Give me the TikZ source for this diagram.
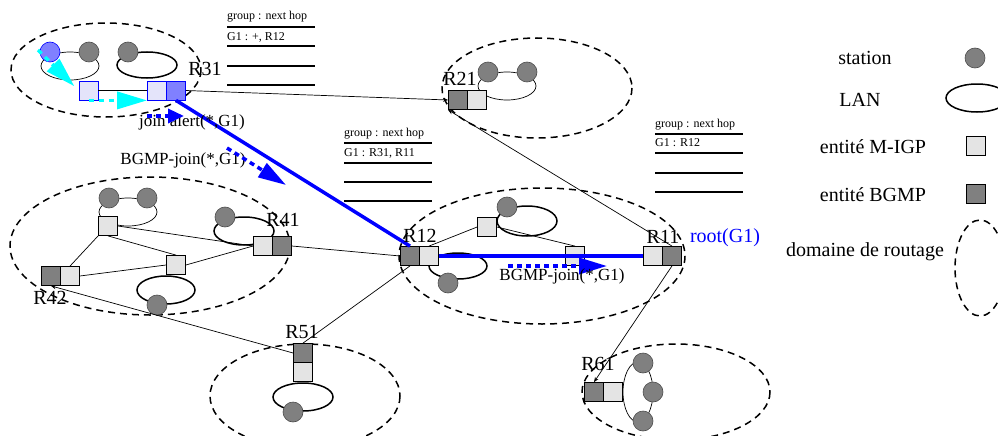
\documentclass[tikz,border=0pt]{standalone}
\usepackage{fontspec}
\setmainfont{Liberation Serif}
\usetikzlibrary{arrows.meta}
\definecolor{bleu}{RGB}{0,0,255}
\definecolor{cyanvif}{RGB}{0,255,255}
\definecolor{lavande}{RGB}{228,228,250}
\definecolor{mauve}{RGB}{128,128,255}
\definecolor{gris}{RGB}{128,128,128}
\definecolor{grisclair}{RGB}{228,228,228}
\begin{document}
\begin{tikzpicture}[x=1pt,y=-1pt,
  station/.style={circle,draw=black!70,fill=gris,minimum size=20pt,inner sep=0pt,line width=0.6pt},
  migp/.style={rectangle,draw,fill=grisclair,minimum size=19pt,inner sep=0pt,line width=0.8pt},
  bgmp/.style={migp,fill=gris},
  domaine/.style={dash pattern=on 7pt off 5pt,line width=1.5pt},
  lan/.style={line width=1.5pt},
  lanfin/.style={line width=0.7pt},
  lien/.style={line width=0.7pt},
  petit/.style={lien,-{Stealth[length=5pt,width=4pt]}},
  chemin/.style={bleu,line width=3.5pt},
  cyanfl/.style={cyanvif,line width=3.5pt,dash pattern=on 5pt off 5pt,-{Triangle[length=30pt,width=17pt]}},
  bleufl/.style={bleu,line width=3.5pt,dash pattern=on 5pt off 4pt,-{Triangle[length=28pt,width=16pt]}},
  lbl/.style={font=\fontsize{20}{22}\selectfont,inner sep=0pt},
  msg/.style={font=\fontsize{17}{19}\selectfont,inner sep=0pt},
  tab/.style={font=\fontsize{12}{13}\selectfont,inner sep=0pt,anchor=west},
  tabtrait/.style={line width=2pt}]
\useasboundingbox (0,0) rectangle (998,436);

% domaines de routage
\draw[domaine] (106,70) ellipse (95 and 47); % R31
\draw[domaine] (537,88) ellipse (95 and 50); % R21
\draw[domaine] (150,246) ellipse (140 and 69); % R41, R42
\draw[domaine] (542,256) ellipse (143 and 68); % R12, R11
\draw[domaine] (305,396) ellipse (95 and 52); % R51
\draw[domaine] (676,392) ellipse (94 and 48); % R61

% LAN
\draw[lanfin] (70,66) ellipse (29 and 14);
\draw[lan] (147,65) ellipse (30 and 13);
\draw[lanfin] (507,86) ellipse (29 and 14);
\draw[lan] (527,221) ellipse (30 and 15);
\draw[lan] (458,266) ellipse (29 and 13);
\draw[lan] (244,231) ellipse (30 and 14);
\draw[lanfin] (128,212) ellipse (29 and 14);
\draw[lan] (166,290) ellipse (29 and 14);
\draw[lan] (303,397) ellipse (30 and 14);
\draw[lanfin] (638,392) ellipse (15 and 30);

% stations
\node[station,fill=mauve,draw=bleu] (s1) at (50,52) {};
\node[station] (s2) at (89,52) {};
\node[station] (s3) at (128,52) {};
\node[station] (s4) at (488,72) {};
\node[station] (s5) at (527,72) {};
\node[station] (s6) at (507,207) {};
\node[station] (s7) at (448,283) {};
\node[station] (s8) at (225,217) {};
\node[station] (s9) at (109,198) {};
\node[station] (s10) at (147,198) {};
\node[station] (s11) at (157,305) {};
\node[station] (s12) at (293,412) {};
\node[station] (s13) at (643,363) {};
\node[station] (s14) at (653,392) {};
\node[station] (s15) at (643,421) {};

% entites M-IGP et BGMP
\node[migp,fill=lavande,draw=bleu] (m1) at (88.5,90.5) {};
\node[migp,fill=lavande,draw=bleu] (r31a) at (157,90.5) {};
\node[migp,fill=mauve,draw=bleu] (r31b) at (176,90.5) {};
\node[bgmp] (r21a) at (458,100) {};
\node[migp] (r21b) at (477,100) {};
\node[bgmp] (r12a) at (410,256) {};
\node[migp] (r12b) at (429,256) {};
\node[migp] (m2) at (487,227) {};
\node[migp] (m3) at (575,256) {};
\node[migp] (r11a) at (653,256) {};
\node[bgmp] (r11b) at (672,256) {};
\node[migp] (r41a) at (263,246) {};
\node[bgmp] (r41b) at (282,246) {};
\node[migp] (m4) at (108,226) {};
\node[migp] (m5) at (176,265) {};
\node[bgmp] (r42a) at (51,276) {};
\node[migp] (r42b) at (70,276) {};
\node[bgmp] (r51a) at (303,353) {};
\node[migp] (r51b) at (303,372) {};
\node[bgmp] (r61a) at (594,392) {};
\node[migp] (r61b) at (613,392) {};

% liens
\draw[lien] (m1.east) -- (r31a.west);
\draw[petit] (r31b.east) -- (r21a.west);
\draw[petit] (r11b.north) -- (r21a.south west);
\draw[lien] (r12b.north) -- (m2.west);
\draw[lien] (m2.east) -- (m3.north);
\draw[lien] (r41b.east) -- (r12a.west);
\draw[lien] (m4.south west) -- (r42b.north);
\draw[lien] (m4.east) -- (r41a.west);
\draw[lien] (m4.south) -- (m5.north);
\draw[lien] (r42b.east) -- (m5.west);
\draw[lien] (m5.east) -- (r41a.west);
\draw[petit] (r51a.west) -- (r42a.south);
\draw[lien] (r12a.south) -- (r51a.north);
\draw[petit] (r11b.south) -- (r61a.north);

% chemin de l'arbre
\draw[chemin] (r31b.south) -- (r12a.north);
\draw[chemin] (r12b.east) -- (r11a.west);

% messages
\coordinate (c1) at (38,50);
\draw[cyanfl,shorten >=6pt] (c1) -- (m1.west);
\draw[cyanfl] (m1.south) -- (r31a.south west);
\node[msg] (ja) at (192,122) {join alert(*,G1)};
\coordinate (b1) at (147,116);
\coordinate (b2) at (184,116);
\draw[bleufl,-{Triangle[length=16pt,width=14pt]}] (b1) -- (b2);
\node[msg] (bj1) at (183,160) {BGMP-join(*,G1)};
\coordinate (b3) at (227,148);
\coordinate (b4) at (286,185);
\draw[bleufl] (b3) -- (b4);
\coordinate (b5) at (508,266);
\coordinate (b6) at (607,266);
\draw[bleufl] (b5) -- (b6);
\node[msg] (bj2) at (562,276) {BGMP-join(*,G1)};

% noms des routeurs
\node[lbl] (n31) at (205,69) {R31};
\node[lbl] (n21) at (460,79) {R21};
\node[lbl] (n12) at (420,236) {R12};
\node[lbl] (n11) at (663,237) {R11};
\node[lbl,text=bleu] (root) at (725,238) {root(G1)};
\node[lbl] (n41) at (283,220) {R41};
\node[lbl] (n42) at (50,298) {R42};
\node[lbl] (n51) at (302,332) {R51};
\node[lbl] (n61) at (598,364) {R61};

% tables group : next hop
\node[tab] (t1h) at (227,17) {group : next hop};
\node[tab] (t1e) at (227,37) {G1 : +, R12};
\foreach \y in {27,46,66,85} \draw[tabtrait] (227,\y) -- (315,\y);
\node[tab] (t2h) at (344,134) {group : next hop};
\node[tab] (t2e) at (344,153) {G1 : R31, R11};
\foreach \y in {143,163,182,201} \draw[tabtrait] (344,\y) -- (432,\y);
\node[tab] (t3h) at (655,125) {group : next hop};
\node[tab] (t3e) at (655,143) {G1 : R12};
\foreach \y in {134,153,173,192} \draw[tabtrait] (655,\y) -- (743,\y);

% legende
\node[lbl] (lg1) at (865,58) {station};
\node[station] (lgs) at (975,58) {};
\node[lbl] (lg2) at (860,100) {LAN};
\draw[lan] (977,98) ellipse (31 and 14);
\node[lbl] (lg3) at (873,147) {entité M-IGP};
\node[migp] (lgm) at (976,146) {};
\node[lbl] (lg4) at (873,195) {entité BGMP};
\node[bgmp] (lgb) at (976,194) {};
\node[lbl] (lg5) at (865,252) {domaine de routage};
\draw[domaine] (980,268) ellipse (25 and 48);
\end{tikzpicture}
\end{document}
